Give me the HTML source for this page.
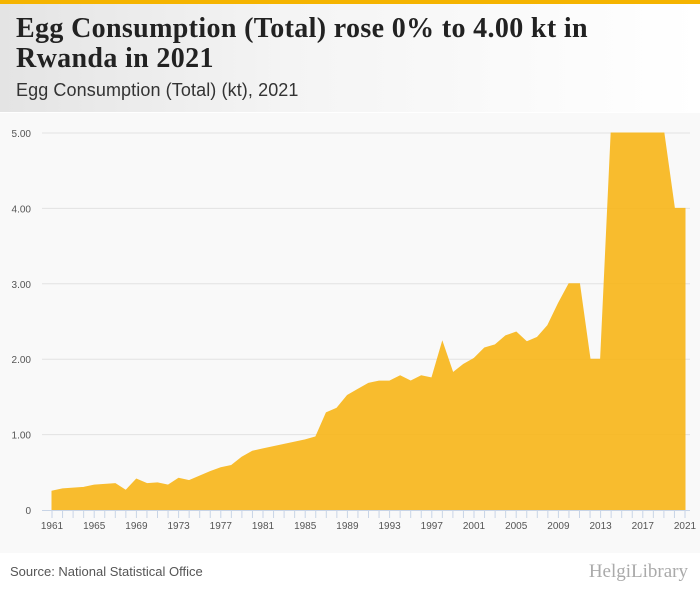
<!DOCTYPE html>
<html><head><meta charset="utf-8">
<style>
body{margin:0;width:700px;height:596px;background:#fff;font-family:"Liberation Sans",sans-serif;overflow:hidden;position:relative}
.topbar{position:absolute;left:0;top:0;width:700px;height:4px;background:#f5b400}
.header{position:absolute;left:0;top:4px;width:700px;height:108px;background:linear-gradient(90deg,#e4e4e4,#f4f4f4 40%,#fff)}
h1{position:absolute;left:16px;top:14px;margin:0;font-family:"Liberation Serif",serif;font-size:28px;line-height:30px;font-weight:bold;color:#222;width:680px;letter-spacing:0.35px;white-space:nowrap}
.sub{position:absolute;left:16px;top:80px;font-size:18px;color:#333;letter-spacing:0.1px}
.chartbg{position:absolute;left:0;top:113px;width:700px;height:440px;background:#f9f9f9}
.src{position:absolute;left:10px;top:564px;font-size:13px;color:#555}
.logo{position:absolute;right:12px;top:561px;font-size:19px;color:#aaa;font-family:"Liberation Serif",serif}
</style></head><body>
<div class="topbar"></div>
<div class="header"></div>
<h1>Egg Consumption (Total) rose 0% to 4.00 kt in<br>Rwanda in 2021</h1>
<div class="sub">Egg Consumption (Total) (kt), 2021</div>
<div class="chartbg"></div>
<svg id="chart" width="700" height="596" style="position:absolute;left:0;top:0"></svg>
<div class="src">Source: National Statistical Office</div>
<div class="logo">HelgiLibrary</div>
<script>
const years=[];for(let y=1961;y<=2021;y++)years.push(y);
const values=[0.25,0.28,0.29,0.30,0.33,0.34,0.35,0.26,0.41,0.35,0.36,0.33,0.42,0.39,0.45,0.51,0.56,0.59,0.70,0.78,0.81,0.84,0.87,0.90,0.93,0.97,1.29,1.35,1.52,1.60,1.68,1.71,1.71,1.78,1.71,1.78,1.75,2.23,1.82,1.93,2.01,2.15,2.19,2.31,2.36,2.23,2.29,2.45,2.74,3.00,3.00,2.00,2.00,5,5,5,5,5,5,4,4];
const yTicks=[0,1,2,3,4,5];
const yTickLabels=["0","1.00","2.00","3.00","4.00","5.00"];
const xLabelYears=[1961,1965,1969,1973,1977,1981,1985,1989,1993,1997,2001,2005,2009,2013,2017,2021];
const NS="http://www.w3.org/2000/svg";
const svg=document.getElementById('chart');
const x=v=>52+(v-1961)*(633/60);
const y=v=>510-v*75.4;
function mk(t,a){const e=document.createElementNS(NS,t);for(const k in a)e.setAttribute(k,a[k]);svg.appendChild(e);return e;}
yTicks.forEach((t,i)=>{
  if(t>0){const g=mk('line',{x1:42,x2:690,y1:y(t),y2:y(t),stroke:'#e2e2e2','stroke-width':1});
  
  }
  const l=mk('text',{x:31,y:y(t)+4,'text-anchor':'end','font-size':10,fill:'#555','font-family':'Liberation Sans, sans-serif'});
  l.textContent=yTickLabels[i];
  
  
});
let d='M'+x(years[0])+','+y(0);
years.forEach((yr,i)=>{d+=' L'+x(yr)+','+y(values[i]);});
d+=' L'+x(years[years.length-1])+','+y(0)+' Z';
const area=mk('path',{d:d,fill:'#f8b619',opacity:0.9,stroke:'#f8b619','stroke-width':1});


const ax=mk('line',{x1:42,x2:690,y1:510.5,y2:510.5,stroke:'#c8d4e6','stroke-width':1});


years.forEach(yr=>{const t=mk('line',{x1:x(yr),x2:x(yr),y1:510,y2:518,stroke:'#c8d4e6','stroke-width':1});

});
xLabelYears.forEach(yr=>{const l=mk('text',{x:x(yr),y:529,'text-anchor':'middle','font-size':10,fill:'#555','font-family':'Liberation Sans, sans-serif'});
l.textContent=yr;

});
</script>
</body></html>
